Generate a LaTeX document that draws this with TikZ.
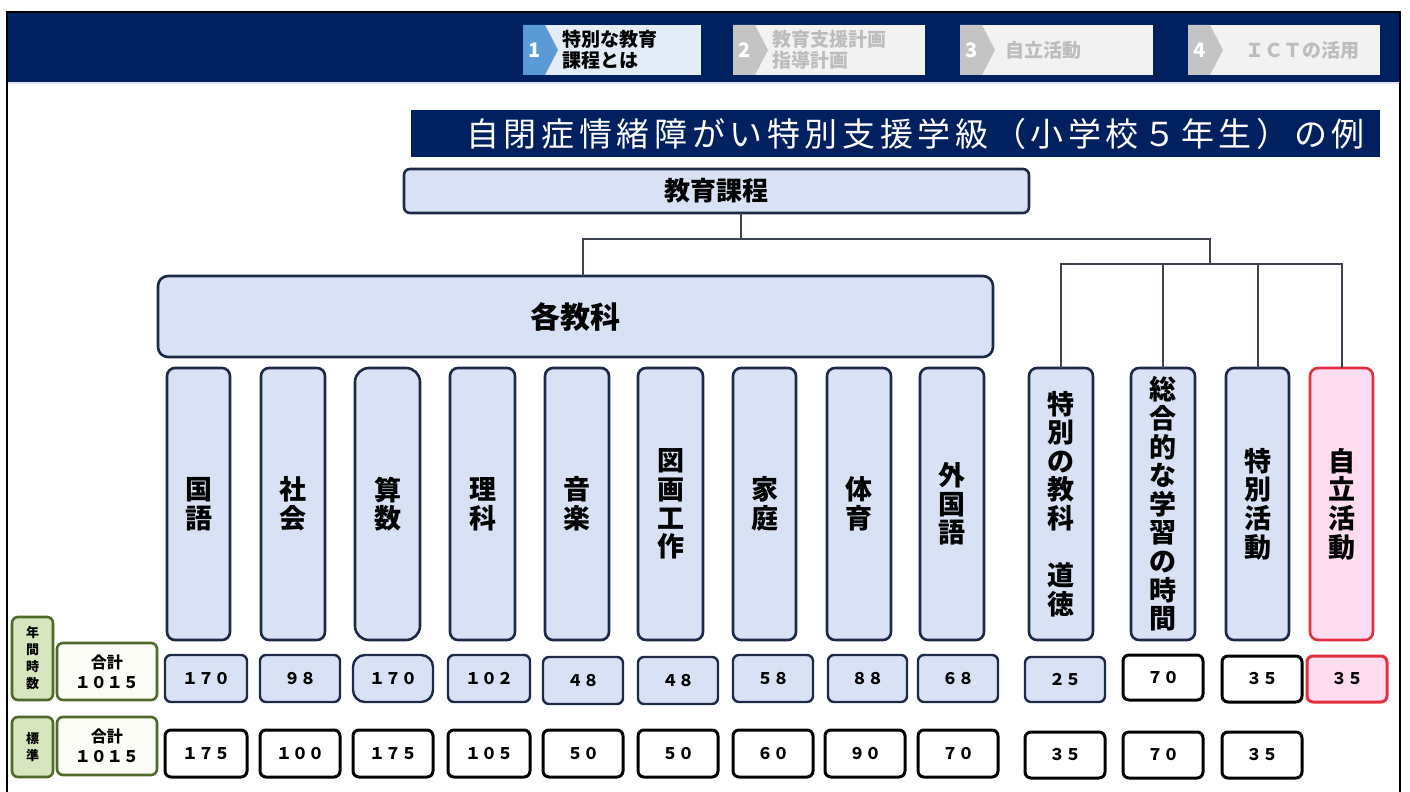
\documentclass[tikz,border=0pt]{standalone}
\usepackage{fontspec}
\setmainfont{Noto Sans CJK JP}
\usetikzlibrary{calc}
\definecolor{navy}{HTML}{002060}
\definecolor{lblue}{HTML}{D9E1F4}
\definecolor{bord}{HTML}{1C2A48}
\definecolor{pinkf}{HTML}{FFDCF0}
\definecolor{redb}{HTML}{E2303F}
\definecolor{grnb}{HTML}{4F6A2A}
\definecolor{grnf}{HTML}{D8E6BF}
\definecolor{grnw}{HTML}{FAFCF5}
\definecolor{connc}{HTML}{3C4250}
\definecolor{tabblue}{HTML}{5B9BD5}
\definecolor{tabbg}{HTML}{E4ECF7}
\definecolor{tabgray}{HTML}{F2F2F2}
\definecolor{chgray}{HTML}{C4C4C4}
\definecolor{txgray}{HTML}{BDBDBD}
\newcommand\mkbox[7]{\node[#6, minimum width={(#4-#2)*0.5pt}, minimum height={(#5-#3)*0.5pt}] (#1) at ({(#2+#4)/2},{(#3+#5)/2}) {#7};}
\tikzset{
  base/.style={rectangle, inner sep=0pt, outer sep=0pt, align=center},
  subj/.style={base, draw=bord, fill=lblue, line width=1.3pt, rounded corners=4pt, font=\fontsize{13.5}{14.3}\selectfont\bfseries},
  jiritsu/.style={subj, draw=redb, fill=pinkf},
  head/.style={base, draw=bord, fill=lblue, line width=1.3pt, rounded corners=3pt, font=\fontsize{13}{15}\selectfont\bfseries},
  vblue/.style={base, draw=bord, fill=lblue, line width=1.2pt, rounded corners=3pt, font=\fontsize{8}{9}\selectfont\bfseries},
  vwhite/.style={vblue, draw=black, fill=white, line width=1.5pt},
  vpink/.style={vblue, draw=redb, fill=pinkf, line width=1.5pt},
  glabel/.style={base, draw=grnb, fill=grnf, line width=1.3pt, rounded corners=3pt, font=\fontsize{6.5}{8.5}\selectfont\bfseries},
  gtotal/.style={base, draw=grnb, fill=grnw, line width=1.3pt, rounded corners=3pt, font=\fontsize{8}{10}\selectfont\bfseries},
  connl/.style={draw=connc, line width=1pt},
  tabtxt/.style={inner sep=0pt, anchor=west, align=left, font=\fontsize{9.5}{10.5}\selectfont\bfseries},
  tabnum/.style={inner sep=0pt, text=white, font=\fontsize{10}{10}\selectfont\bfseries},
}
\begin{document}
\begin{tikzpicture}[x=0.5pt, y=-0.5pt]
\useasboundingbox (0,0) rectangle (1410,792);
\fill[white] (0,0) rectangle (1410,792);
% header band
\fill[navy] (7,12) rectangle (1400,82);
\draw[line width=1pt, color=lblue!80] (7,83.5) -- (1400,83.5);
\draw[black, line width=0.8pt] (7,792) -- (7,12) -- (1400,12) -- (1400,792);
% tabs
\fill[tabbg] (523,25) rectangle (701,75);
\fill[tabblue] (523,25) -- (545,25) -- (558,50) -- (545,75) -- (523,75) -- cycle;
\node[tabnum] (t1n) at (535,50) {1};
\node[tabtxt] (t1) at (562,50) {特別な教育\\課程とは};
\fill[tabgray] (733,25) rectangle (925,75);
\fill[chgray] (733,25) -- (755,25) -- (768,50) -- (755,75) -- (733,75) -- cycle;
\node[tabnum] (t2n) at (745,50) {2};
\node[tabtxt, text=txgray] (t2) at (772,50) {教育支援計画\\指導計画};
\fill[tabgray] (960,25) rectangle (1153,75);
\fill[chgray] (960,25) -- (982,25) -- (995,50) -- (982,75) -- (960,75) -- cycle;
\node[tabnum] (t3n) at (972,50) {3};
\node[tabtxt, text=txgray] (t3) at (1005,50) {自立活動};
\fill[tabgray] (1188,25) rectangle (1380,75);
\fill[chgray] (1188,25) -- (1210,25) -- (1223,50) -- (1210,75) -- (1188,75) -- cycle;
\node[tabnum] (t4n) at (1200,50) {4};
\node[tabtxt, text=txgray, anchor=center] (t4) at (1302,50) {ＩＣＴの活用};
% title
\mkbox{title}{411}{110}{1380}{157}{base, fill=navy, text=white, font=\fontsize{16.5}{18}\selectfont\addfontfeature{LetterSpace=14}}{\hspace*{20pt}自閉症情緒障がい特別支援学級（小学校５年生）の例}
% top boxes
\mkbox{kyouiku}{404}{169}{1029}{213}{head}{教育課程}
\mkbox{kaku}{158}{276}{993}{357}{head, rounded corners=5pt, font=\fontsize{15}{17}\selectfont\bfseries}{各教科}
% subject columns
\mkbox{kokugo}{167}{368}{230}{640}{subj}{国\\語}
\mkbox{shakai}{261}{368}{325}{640}{subj}{社\\会}
\mkbox{sansu}{355}{368}{420}{640}{subj, rounded corners=7pt}{算\\数}
\mkbox{rika}{450}{368}{515}{640}{subj}{理\\科}
\mkbox{ongaku}{545}{368}{609}{640}{subj}{音\\楽}
\mkbox{zuga}{638}{368}{703}{640}{subj}{図\\画\\工\\作}
\mkbox{katei}{733}{368}{796}{640}{subj}{家\\庭}
\mkbox{taiiku}{827}{368}{891}{640}{subj}{体\\育}
\mkbox{gaikoku}{920}{368}{984}{640}{subj}{外\\国\\語}
\mkbox{doutoku}{1029}{368}{1093}{640}{subj}{特\\別\\の\\教\\科\\\mbox{}\\道\\徳}
\mkbox{sougou}{1131}{368}{1195}{640}{subj}{総\\合\\的\\な\\学\\習\\の\\時\\間}
\mkbox{tokkatsu}{1226}{368}{1289}{640}{subj}{特\\別\\活\\動}
\mkbox{jiritsu}{1310}{368}{1373}{640}{jiritsu}{自\\立\\活\\動}
% connectors
\coordinate (h1m) at (741,239);
\coordinate (h1l) at (583,239);
\coordinate (h1r) at (1210,239);
\coordinate (h2) at (1210,264);
\draw[connl] (kyouiku.south -| h1m) -- (h1m);
\draw[connl] (kaku.north -| h1l) -- (h1l) -- (h1r) -- (h2);
\draw[connl] (doutoku.north) -- (doutoku.north |- h2) -- (jiritsu.north |- h2) -- (jiritsu.north);
\draw[connl] (sougou.north) -- (sougou.north |- h2);
\draw[connl] (tokkatsu.north) -- (tokkatsu.north |- h2);
% left labels
\mkbox{nenkan}{12}{617}{53}{700}{glabel}{年\\間\\時\\数}
\mkbox{tot1}{57}{643}{157}{700}{gtotal}{合計\\１０１５}
\mkbox{hyoujun}{12}{717}{53}{777}{glabel}{標\\準}
\mkbox{tot2}{57}{717}{157}{775}{gtotal}{合計\\１０１５}
% row 1
\mkbox{a1}{165}{655}{247}{702}{vblue}{１７０}
\mkbox{a2}{260}{655}{340}{702}{vblue}{９８}
\mkbox{a3}{353}{655}{433}{702}{vblue, rounded corners=6pt}{１７０}
\mkbox{a4}{448}{655}{530}{702}{vblue}{１０２}
\mkbox{a5}{543}{657}{623}{704}{vblue}{４８}
\mkbox{a6}{638}{657}{718}{704}{vblue}{４８}
\mkbox{a7}{733}{655}{813}{702}{vblue}{５８}
\mkbox{a8}{828}{655}{907}{702}{vblue}{８８}
\mkbox{a9}{918}{655}{998}{702}{vblue}{６８}
\mkbox{a10}{1025}{657}{1105}{702}{vblue}{２５}
\mkbox{a11}{1123}{655}{1203}{700}{vwhite}{７０}
\mkbox{a12}{1222}{656}{1302}{702}{vwhite}{３５}
\mkbox{a13}{1307}{656}{1387}{702}{vpink}{３５}
% row 2
\mkbox{b1}{165}{730}{247}{777}{vwhite}{１７５}
\mkbox{b2}{260}{730}{340}{777}{vwhite}{１００}
\mkbox{b3}{353}{730}{433}{777}{vwhite}{１７５}
\mkbox{b4}{448}{730}{530}{777}{vwhite}{１０５}
\mkbox{b5}{543}{730}{623}{777}{vwhite}{５０}
\mkbox{b6}{638}{730}{718}{777}{vwhite}{５０}
\mkbox{b7}{733}{730}{813}{777}{vwhite}{６０}
\mkbox{b8}{825}{730}{905}{777}{vwhite}{９０}
\mkbox{b9}{918}{730}{998}{777}{vwhite}{７０}
\mkbox{b10}{1025}{732}{1105}{778}{vwhite}{３５}
\mkbox{b11}{1123}{732}{1203}{778}{vwhite}{７０}
\mkbox{b12}{1222}{732}{1302}{778}{vwhite}{３５}
\end{tikzpicture}
\end{document}
